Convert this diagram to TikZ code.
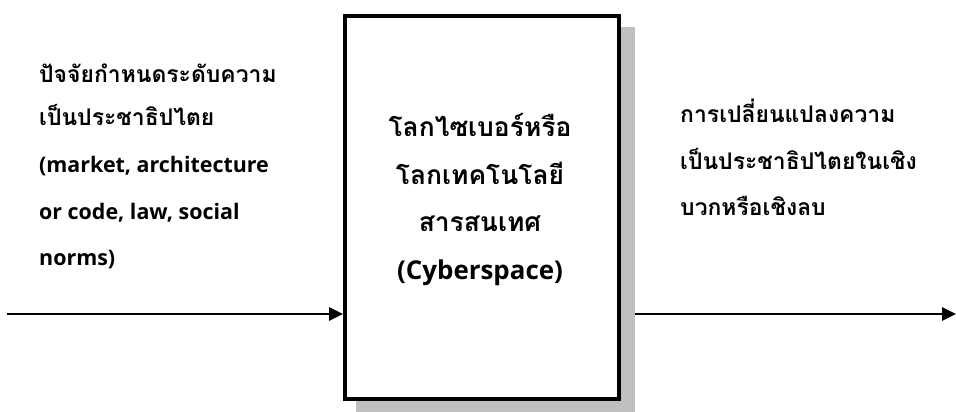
\documentclass[tikz,border=0pt]{standalone}
\usepackage{fontspec}
\setmainfont[Script=Thai]{Loma}
\newfontfamily\latfont{Open Sans}
\usetikzlibrary{arrows.meta}
\tikzset{
  txt/.style={inner sep=0pt, font=\bfseries\fontsize{23}{26}\selectfont},
  ctxt/.style={inner sep=0pt, font=\bfseries\fontsize{26.5}{30}\selectfont, anchor=base},
  ltxt/.style={txt, anchor=base west},
  lat/.style={inner sep=0pt, font=\latfont\bfseries\fontsize{21.5}{25}\selectfont, anchor=base west},
  clat/.style={inner sep=0pt, font=\latfont\bfseries\fontsize{26}{30}\selectfont, anchor=base},
  conn/.style={line width=2.6bp, -{Triangle[length=14bp,width=13bp]}},
  mainbox/.style={draw=black, line width=4bp, fill=white, inner sep=0pt},
  shadowbox/.style={fill=black!25, inner sep=0pt}
}
\begin{document}
\begin{tikzpicture}[x=1bp,y=-1bp]
\useasboundingbox (0,0) rectangle (956,411);
% shadow and box
\node[shadowbox, minimum width=279bp, minimum height=387bp, anchor=north west] (shadow) at (356,27) {};
\node[mainbox, minimum width=274bp, minimum height=383bp, anchor=north west] (box) at (343,14) {};
% left text
\node[ltxt] (l1) at (39,82) {ปัจจัยกำหนดระดับความ};
\node[ltxt] (l2) at (39,125) {เป็นประชาธิปไตย};
\node[lat] (l3) at (39,172) {(market, architecture};
\node[lat] (l4) at (39,219) {or code, law, social};
\node[lat] (l5) at (39,265) {norms)};
% centre text
\node[ctxt] (c1) at (480,136) {โลกไซเบอร์หรือ};
\node[ctxt] (c2) at (480,184) {โลกเทคโนโลยี};
\node[ctxt] (c3) at (480,231) {สารสนเทศ};
\node[clat] (c4) at (480,279) {(Cyberspace)};
% right text
\node[ltxt] (r1) at (680,122) {การเปลี่ยนแปลงความ};
\node[ltxt] (r2) at (680,169) {เป็นประชาธิปไตยในเชิง};
\node[ltxt] (r3) at (680,215) {บวกหรือเชิงลบ};
% connectors
\coordinate (lstart) at (7,314);
\coordinate (rend) at (956,314);
\draw[conn] (lstart) -- (lstart -| box.west);
\draw[conn] (shadow.east |- rend) -- (rend);
\end{tikzpicture}
\end{document}
